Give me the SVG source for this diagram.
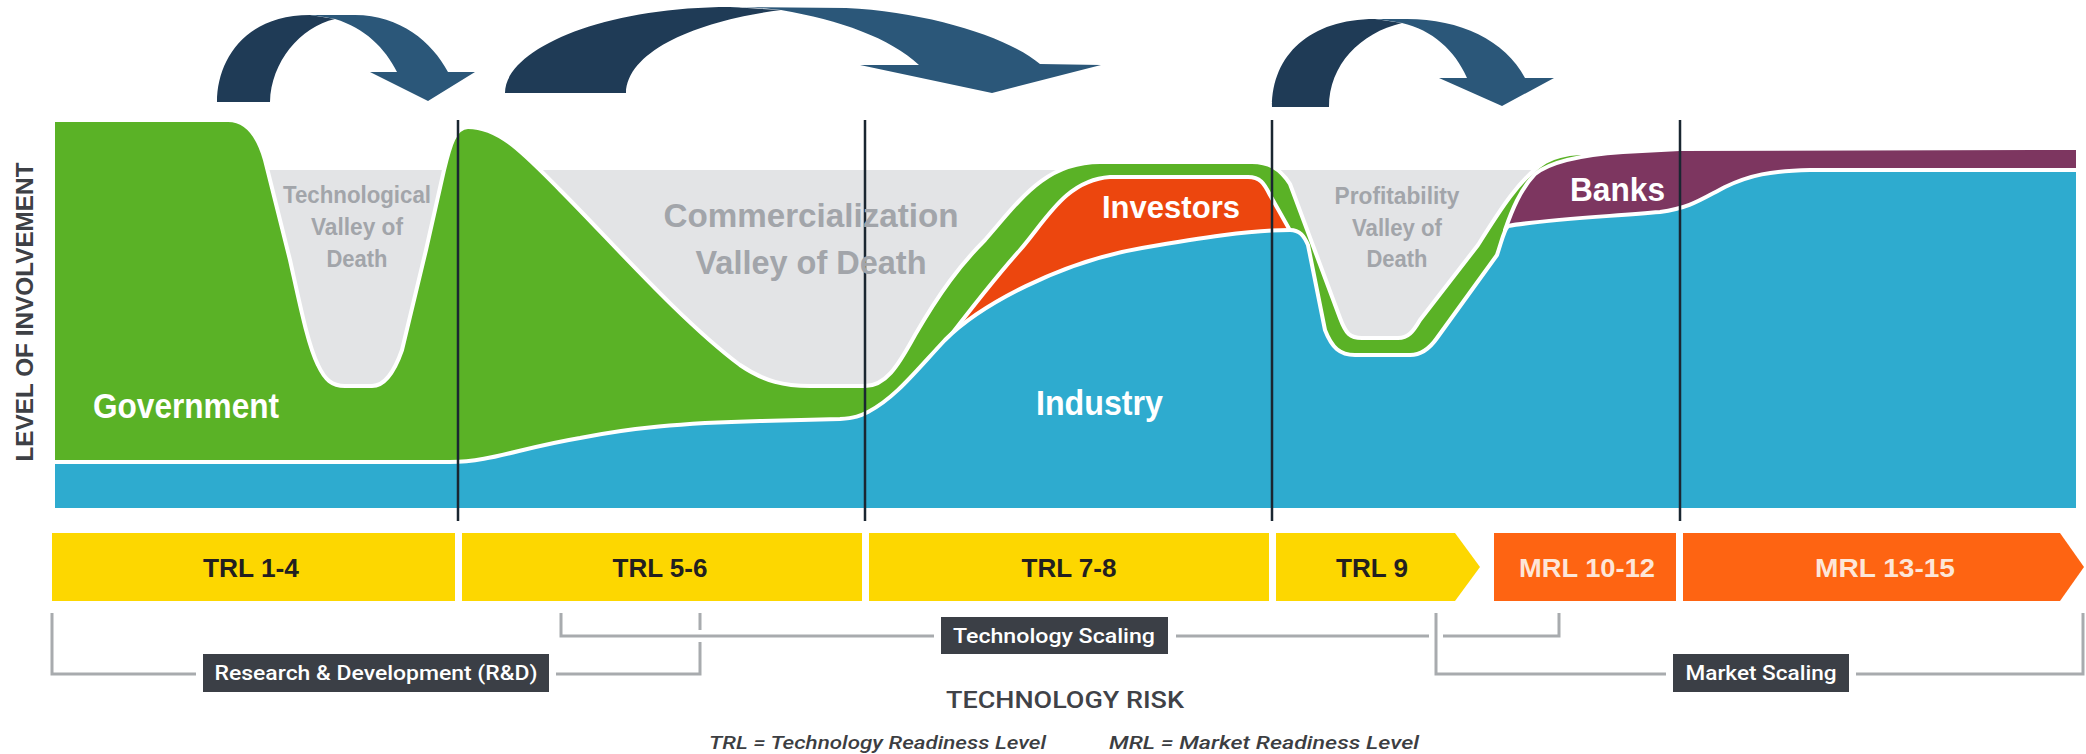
<svg xmlns="http://www.w3.org/2000/svg" width="2086" height="754" viewBox="0 0 2086 754">
<defs>
<style>
.area{stroke:#fff;stroke-width:4;stroke-linejoin:round}
.vline{stroke:#1a2631;stroke-width:2.5;fill:none}
.brk{stroke:#a8abae;stroke-width:3;fill:none}
.dark{fill:#1f3b56}
.light{fill:#2b5779}
.cond{font-family:"Liberation Sans Narrow","Liberation Sans",Arial,sans-serif;font-weight:bold}
.valley{fill:#a2a5aa;text-anchor:middle}
.bar{font-size:26px;text-anchor:middle}
.box{fill:#3b3f46}
.boxt{font-family:Roboto,"Liberation Sans",Arial,sans-serif;font-weight:500;font-size:20px;fill:#fff;text-anchor:middle}
</style>
</defs>
<rect width="2086" height="754" fill="#fff"/>

<g id="connectors">
  <g id="arrow1">
    <path class="dark" d="M217,102 C217,60 245,15 310,15 L335,19 C300,27 271,62 270,102 Z"/>
    <path class="light" d="M310,15 L355,15 C400,15 432,42 448,72 L475,72 L428,101 L370,72 L397,72 C385,48 365,28 335,19 C325,17 318,16 310,15 Z"/>
  </g>
  <g id="arrow2">
    <path class="dark" d="M505,93 C505,50 600,7 730,7 L781,10 C700,20 627,50 626,93 Z"/>
    <path class="light" d="M730,7 L846,8 C930,12 1010,38 1040,64 L1101,65 L992,93 L860,65 L919,65 C890,38 840,20 781,10 C760,8 745,7 730,7 Z"/>
  </g>
  <g id="arrow3">
    <path class="dark" d="M1272,107 C1272,55 1310,19 1375,19 L1402,23 C1360,33 1329,65 1329,107 Z"/>
    <path class="light" d="M1375,19 L1407,19 C1460,19 1505,40 1525,78 L1554,78 L1502,106 L1439,78 L1467,78 C1455,50 1432,30 1402,23 C1392,21 1384,20 1375,19 Z"/>
  </g>
</g>

<g id="chart">
  <rect id="valley-bg" x="53" y="170" width="2025" height="340" fill="#e3e4e6"/>
  <path id="government" class="area" fill="#5ab226" d="M53,120 L228,120 C246,120 258,135 265,160 L290,260 C300,305 308,345 318,365 C325,380 332,386 345,386 L372,386 C385,386 395,370 402,350 L426,250 L444,170 C450,145 455,127 468,127 C500,127 525,155 560,190 C610,240 680,320 740,365 C765,382 785,386 810,386 L865,386 C885,386 897,368 915,335 C940,292 960,265 985,240 C1020,200 1045,162 1100,162 L1252,162 C1268,162 1280,168 1290,184 L1340,318 C1346,334 1350,338 1362,338 L1398,338 C1408,338 1413,332 1420,320 L1478,245 C1500,210 1520,178 1545,162 C1555,156 1565,154 1580,153 L2078,152 L2078,510 L53,510 Z"/>
  <path id="investors" class="area" fill="#ec460e" d="M944,344 C970,310 995,278 1020,250 C1045,222 1065,180 1110,177 L1248,177 C1260,177 1264,183 1270,195 L1292,234 L1292,300 L944,360 Z"/>
  <path id="banks" class="area" fill="#7d3660" d="M1505,230 C1512,210 1520,190 1535,174 C1550,162 1580,155 1623,152 L1680,149 L2078,148 L2078,200 L1505,250 Z"/>
  <path id="industry" class="area" fill="#2eabcf" d="M53,462 L450,462 C490,462 520,448 580,438 C630,428 680,423 760,421 L840,419 C855,418 860,416 868,412 C895,398 915,372 945,340 C980,305 1060,262 1142,248 C1200,238 1250,230 1290,230 C1300,230 1304,236 1308,245 L1325,330 C1332,348 1340,355 1355,355 L1410,355 C1422,355 1430,348 1437,338 L1497,255 C1502,240 1504,230 1508,226 C1540,220 1600,217 1660,212 C1690,208 1700,200 1725,187 C1750,175 1770,171 1810,170 L2078,170 L2078,510 L53,510 Z"/>
  <line class="vline" x1="458" y1="120" x2="458" y2="521"/>
  <line class="vline" x1="865" y1="120" x2="865" y2="521"/>
  <line class="vline" x1="1272" y1="120" x2="1272" y2="521"/>
  <line class="vline" x1="1680" y1="120" x2="1680" y2="521"/>
  <g id="lbl-tech-valley" class="cond valley" font-size="24">
    <text x="357" y="203" textLength="148" lengthAdjust="spacingAndGlyphs">Technological</text>
    <text x="357" y="235" textLength="92" lengthAdjust="spacingAndGlyphs">Valley of</text>
    <text x="357" y="267" textLength="61" lengthAdjust="spacingAndGlyphs">Death</text>
  </g>
  <g id="lbl-comm-valley" class="cond valley" font-size="33">
    <text x="811" y="227" textLength="295" lengthAdjust="spacingAndGlyphs">Commercialization</text>
    <text x="811" y="274" textLength="231" lengthAdjust="spacingAndGlyphs">Valley of Death</text>
  </g>
  <g id="lbl-prof-valley" class="cond valley" font-size="24">
    <text x="1397" y="204" textLength="125" lengthAdjust="spacingAndGlyphs">Profitability</text>
    <text x="1397" y="236" textLength="90" lengthAdjust="spacingAndGlyphs">Valley of</text>
    <text x="1397" y="267" textLength="61" lengthAdjust="spacingAndGlyphs">Death</text>
  </g>
  <text id="lbl-government" class="cond" x="93" y="418" font-size="35" fill="#fff" textLength="186" lengthAdjust="spacingAndGlyphs">Government</text>
  <text id="lbl-industry" class="cond" x="1036" y="415" font-size="35" fill="#fff" textLength="127" lengthAdjust="spacingAndGlyphs">Industry</text>
  <text id="lbl-investors" class="cond" x="1102" y="218" font-size="32" fill="#fff" textLength="138" lengthAdjust="spacingAndGlyphs">Investors</text>
  <text id="lbl-banks" class="cond" x="1570" y="201" font-size="33" fill="#fff" textLength="95" lengthAdjust="spacingAndGlyphs">Banks</text>
</g>

<text id="y-axis" class="cond" transform="translate(33,312) rotate(-90)" x="0" y="0" font-size="23" fill="#3d4045" text-anchor="middle" textLength="299" lengthAdjust="spacingAndGlyphs">LEVEL OF INVOLVEMENT</text>

<g id="bars">
  <g id="trl1-4"><rect x="52" y="533" width="403" height="68" fill="#fdd700"/><text class="cond bar" x="251" y="577" fill="#231f20" textLength="96" lengthAdjust="spacingAndGlyphs">TRL 1-4</text></g>
  <g id="trl5-6"><rect x="462" y="533" width="400" height="68" fill="#fdd700"/><text class="cond bar" x="660" y="577" fill="#231f20" textLength="95" lengthAdjust="spacingAndGlyphs">TRL 5-6</text></g>
  <g id="trl7-8"><rect x="869" y="533" width="400" height="68" fill="#fdd700"/><text class="cond bar" x="1069" y="577" fill="#231f20" textLength="95" lengthAdjust="spacingAndGlyphs">TRL 7-8</text></g>
  <g id="trl9"><polygon points="1276,533 1455,533 1480,567 1455,601 1276,601" fill="#fdd700"/><text class="cond bar" x="1372" y="577" fill="#231f20" textLength="72" lengthAdjust="spacingAndGlyphs">TRL 9</text></g>
  <g id="mrl10-12"><rect x="1494" y="533" width="182" height="68" fill="#fe6412"/><text class="cond bar" x="1587" y="577" fill="#fde6d8" textLength="136" lengthAdjust="spacingAndGlyphs">MRL 10-12</text></g>
  <g id="mrl13-15"><polygon points="1683,533 2060,533 2084,567 2060,601 1683,601" fill="#fe6412"/><text class="cond bar" x="1885" y="577" fill="#fde6d8" textLength="140" lengthAdjust="spacingAndGlyphs">MRL 13-15</text></g>
</g>

<g id="brackets">
  <path class="brk" d="M52,613 L52,674 L196,674 M556,674 L700,674 L700,642 M700,630 L700,613"/>
  <path class="brk" d="M561,613 L561,636 L934,636 M1176,636 L1429,636 M1443,636 L1559,636 L1559,613"/>
  <path class="brk" d="M1436,613 L1436,674 L1666,674 M1856,674 L2083,674 L2083,613"/>
</g>

<g id="rd">
  <rect class="box" x="203" y="654" width="346" height="38"/>
  <text class="boxt" x="376" y="680" textLength="323" lengthAdjust="spacingAndGlyphs">Research &amp; Development (R&amp;D)</text>
</g>
<g id="techscaling">
  <rect class="box" x="941" y="617" width="227" height="37"/>
  <text class="boxt" x="1054" y="643" textLength="202" lengthAdjust="spacingAndGlyphs">Technology Scaling</text>
</g>
<g id="marketscaling">
  <rect class="box" x="1673" y="654" width="176" height="38"/>
  <text class="boxt" x="1761" y="680" textLength="151" lengthAdjust="spacingAndGlyphs">Market Scaling</text>
</g>

<text id="x-axis" x="1065" y="708" font-family="Roboto,Liberation Sans,Arial,sans-serif" font-weight="500" font-size="23" fill="#404247" text-anchor="middle" textLength="238" lengthAdjust="spacingAndGlyphs">TECHNOLOGY RISK</text>
<g id="legend" font-family="Roboto,Liberation Sans,Arial,sans-serif" font-weight="500" font-size="19" font-style="italic" fill="#3c3e42">
  <text x="709" y="749" textLength="337" lengthAdjust="spacingAndGlyphs">TRL = Technology Readiness Level</text>
  <text x="1109" y="749" textLength="310" lengthAdjust="spacingAndGlyphs">MRL = Market Readiness Level</text>
</g>
</svg>
